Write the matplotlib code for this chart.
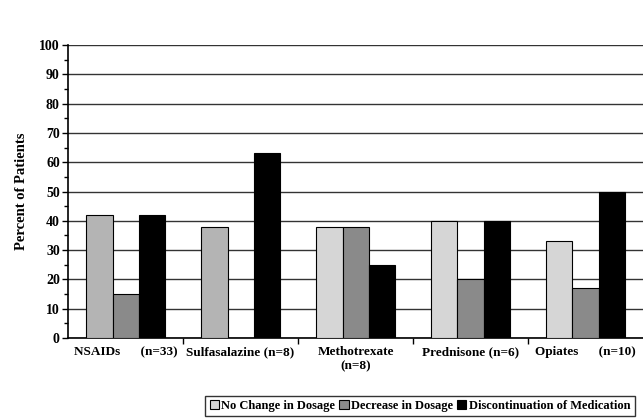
import numpy as np
import matplotlib
matplotlib.use("Agg")
import matplotlib.pyplot as plt
from matplotlib.patches import Patch

# data
groups = ["NSAIDs      (n=33)", "Sulfasalazine (n=8)", "Methotrexate\n(n=8)",
          "Prednisone (n=6)", "Opiates      (n=10)"]
no_change = [42, 38, 38, 40, 33]
decrease = [15, 0, 38, 20, 17]
discontinued = [42, 63, 25, 40, 50]
series_names = ["No Change in Dosage", "Decrease in Dosage", "Discontinuation of Medication"]

plt.rcParams['font.family'] = ['Liberation Serif', 'DejaVu Serif']

fig = plt.figure(figsize=(6.43, 4.2), dpi=100)
ax = fig.add_axes([0.106, 0.195, 0.894, 0.698])

x = np.arange(len(groups))
w = 0.227
c_light = "#d6d6d6"
c_stip = "#b4b4b4"
c_mid = "#8a8a8a"
nc_cols = [c_stip, c_stip, c_light, c_light, c_light]

ax.bar(x - w, no_change, w, color=nc_cols, edgecolor="black", linewidth=0.8, zorder=3)
ax.bar(x, decrease, w, color=c_mid, edgecolor="black", linewidth=0.8, zorder=3)
ax.bar(x + w, discontinued, w, color="black", edgecolor="black", linewidth=0.8, zorder=3)

ax.set_xlim(-0.5, len(groups) - 0.5)
ax.set_ylim(0, 100)
ax.set_yticks(np.arange(0, 101, 10))
ax.set_yticks(np.arange(5, 100, 10), minor=True)
ax.yaxis.grid(True, color="#333333", linewidth=1.0, zorder=0)
ax.tick_params(axis="y", labelsize=10, length=4, width=1, pad=2)
ax.tick_params(axis="y", which="minor", length=3, width=1)
for t in ax.get_yticklabels():
    t.set_fontweight("bold")

ax.set_xticks(x)
ax.set_xticklabels(groups, fontsize=9.5, va="top", fontweight="bold")
ax.tick_params(axis="x", length=0, pad=6)
ax.set_xticks(np.arange(0.5, len(groups) - 0.5), minor=True)
ax.tick_params(axis="x", which="minor", length=4, width=1)

for s in ["top", "right"]:
    ax.spines[s].set_visible(False)
ax.spines["left"].set_linewidth(1.2)
ax.spines["bottom"].set_linewidth(1.2)

ax.set_ylabel("Percent of Patients", fontsize=10.5, fontweight="bold", labelpad=8)

handles = [Patch(facecolor=c, edgecolor="black", linewidth=0.8)
           for c in [c_light, c_mid, "black"]]
leg = fig.legend(handles, series_names, ncol=3, loc="lower right",
                 bbox_to_anchor=(0.993, 0.0), frameon=True, fancybox=False,
                 prop={"size": 9, "weight": "bold"},
                 edgecolor="black", handlelength=0.75, handleheight=0.75,
                 handletextpad=0.2, columnspacing=0.3, borderpad=0.35, borderaxespad=0.3)
leg.get_frame().set_linewidth(1.0)

fig.savefig("out.png", dpi=100)
